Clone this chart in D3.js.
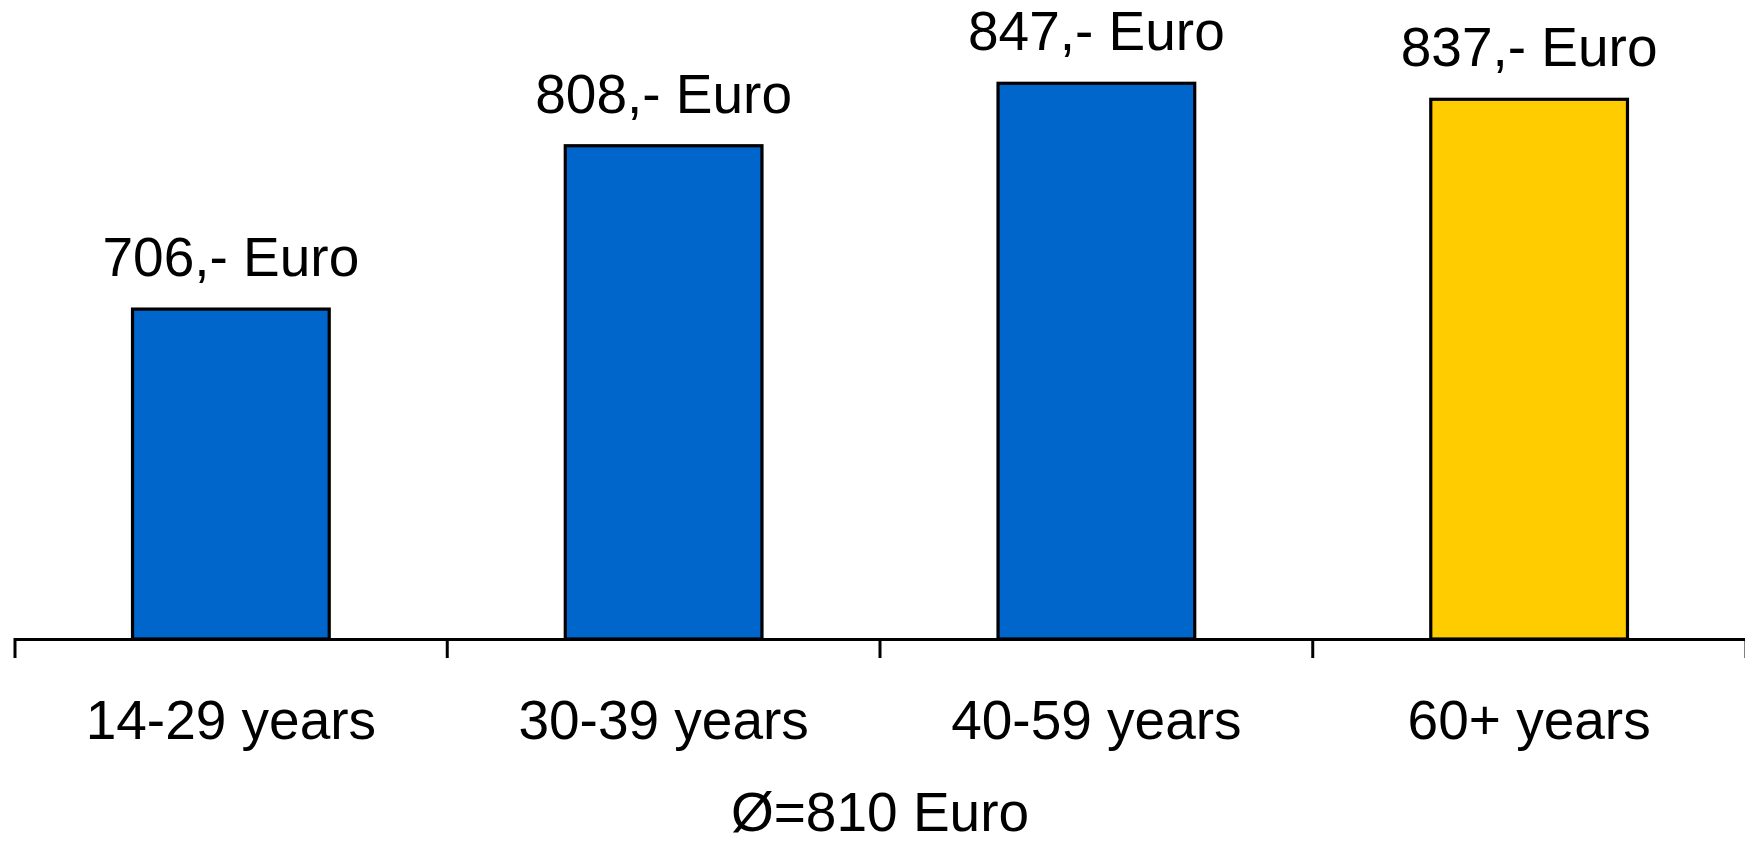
<!DOCTYPE html>
<html>
<head>
<meta charset="utf-8">
<script src="https://cdn.jsdelivr.net/npm/d3@7/dist/d3.min.js"></script>
<style>
  html, body { margin: 0; padding: 0; background: #ffffff; }
  svg { display: block; }
  text { font-family: "Liberation Sans", Arial, sans-serif; fill: #000; }
</style>
</head>
<body>
<svg id="chart" width="1745" height="844"></svg>
<script>
// Average monthly amount by age group
const categories = ["14-29 years", "30-39 years", "40-59 years", "60+ years"];
const values = [706, 808, 847, 837];
const barColors = ["#0066CC", "#0066CC", "#0066CC", "#FFCC00"];
const valueSuffix = ",- Euro";
const averageLabel = "Ø=810 Euro";
const yDomain = [500, 900];

const svg = d3.select("#chart");
const baseY = 639;
const fontSize = 55;

const x = d3.scaleBand()
  .domain(categories)
  .range([14.5, 1745.5])
  .paddingInner(0)
  .paddingOuter(0);

const y = d3.scaleLinear()
  .domain(yDomain)
  .range([baseY, -1.6]);

const barW = x.bandwidth() / 2.2;
const data = categories.map((c, i) => ({ cat: c, value: values[i], color: barColors[i] }));

// Bars
svg.append("g").selectAll("rect")
  .data(data)
  .join("rect")
  .attr("x", d => x(d.cat) + (x.bandwidth() - barW) / 2)
  .attr("y", d => y(d.value))
  .attr("width", barW)
  .attr("height", d => baseY - y(d.value))
  .attr("fill", d => d.color)
  .attr("stroke", "#000")
  .attr("stroke-width", 3.2);

// Value labels above bars
svg.append("g").selectAll("text")
  .data(data)
  .join("text")
  .attr("x", d => x(d.cat) + x.bandwidth() / 2)
  .attr("y", d => y(d.value) - 33)
  .attr("text-anchor", "middle")
  .attr("font-size", fontSize)
  .text(d => d.value + valueSuffix);

// Category axis
const axis = d3.axisBottom(x)
  .tickSizeInner(0)
  .tickSizeOuter(19)
  .tickPadding(61);

const gx = svg.append("g")
  .attr("transform", `translate(0,${baseY})`)
  .call(axis);
gx.select(".domain").attr("stroke", "#000").attr("stroke-width", 3).attr("fill", "none");
gx.selectAll(".tick line").remove();
gx.selectAll(".tick text")
  .attr("font-size", fontSize)
  .attr("font-family", "'Liberation Sans', Arial, sans-serif")
  .attr("fill", "#000");

// Tick marks between categories
gx.append("g").selectAll("line")
  .data(categories.slice(1))
  .join("line")
  .attr("x1", d => x(d))
  .attr("x2", d => x(d))
  .attr("y1", 0)
  .attr("y2", 19)
  .attr("stroke", "#000")
  .attr("stroke-width", 3);

// Overall average
svg.append("text")
  .attr("x", (x.range()[0] + x.range()[1]) / 2)
  .attr("y", 831)
  .attr("text-anchor", "middle")
  .attr("font-size", fontSize)
  .text(averageLabel);
</script>
</body>
</html>
